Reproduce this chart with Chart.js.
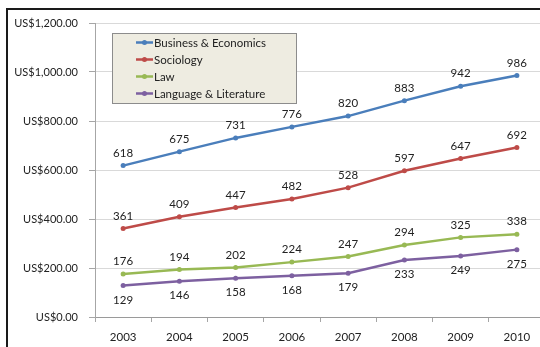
<!DOCTYPE html>
<html>
<head>
<meta charset="utf-8">
<script src="https://cdn.jsdelivr.net/npm/chart.js@4"></script>
<style>
  html, body { margin: 0; padding: 0; background: #fff; overflow: hidden; width: 540px; height: 347px; }
  #frame { position: absolute; left: 6px; top: 8px; width: 600px; height: 400px;
           border-left: 2px solid #1a1a1a; border-top: 2px solid #1a1a1a; }
  #wrap { position: absolute; left: 0; top: 0; width: 580px; height: 360px; }
</style>
</head>
<body>
<div id="frame"></div>
<div id="wrap"><canvas id="lineChart" width="580" height="360"></canvas></div>
<script>
var years = ['2003', '2004', '2005', '2006', '2007', '2008', '2009', '2010'];
var business = [618, 675, 731, 776, 820, 883, 942, 986];
var sociology = [361, 409, 447, 482, 528, 597, 647, 692];
var law = [176, 194, 202, 224, 247, 294, 325, 338];
var language = [129, 146, 158, 168, 179, 233, 249, 275];
var seriesNames = ['Business & Economics', 'Sociology', 'Law', 'Language & Literature'];
var seriesColors = ['#4a7ebb', '#be4b48', '#98b954', '#7d60a0'];

var FONT = 'Lato, "Liberation Sans", sans-serif';

function makeSet(i, values) {
  return {
    label: seriesNames[i],
    data: values,
    borderColor: seriesColors[i],
    backgroundColor: seriesColors[i],
    pointBackgroundColor: seriesColors[i],
    pointBorderColor: seriesColors[i],
    borderWidth: 2.5,
    pointRadius: 2.5,
    pointBorderWidth: 0,
    tension: 0,
    labelBelow: i === 3          // 語言文學的數值標在點的下面
  };
}

// 數值標籤
var valueLabels = {
  id: 'valueLabels',
  afterDatasetsDraw: function (chart) {
    var ctx = chart.ctx;
    ctx.save();
    ctx.font = '11.5px ' + FONT;
    ctx.fillStyle = '#222';
    ctx.textAlign = 'center';
    ctx.textBaseline = 'middle';
    chart.data.datasets.forEach(function (ds, i) {
      var meta = chart.getDatasetMeta(i);
      meta.data.forEach(function (pt, j) {
        var dy = ds.labelBelow ? 14.5 : -12.5;
        ctx.fillText(String(ds.data[j]), pt.x, pt.y + dy);
      });
    });
    ctx.restore();
  }
};

// 圖例方框 (在圖表區內左上)
var boxLegend = {
  id: 'boxLegend',
  afterDraw: function (chart) {
    var ctx = chart.ctx;
    var x = 112.5, y = 33.5, w = 184, h = 70;
    ctx.save();
    ctx.fillStyle = '#eeece1';
    ctx.fillRect(x, y, w, h);
    ctx.strokeStyle = '#8c8c8c';
    ctx.lineWidth = 1;
    ctx.strokeRect(x, y, w, h);
    ctx.font = '11.5px ' + FONT;
    ctx.textBaseline = 'middle';
    ctx.textAlign = 'left';
    chart.data.datasets.forEach(function (ds, i) {
      var ly = 42.5 + i * 17;
      ctx.strokeStyle = ds.borderColor;
      ctx.lineWidth = 2.5;
      ctx.beginPath();
      ctx.moveTo(136, ly);
      ctx.lineTo(153, ly);
      ctx.stroke();
      ctx.fillStyle = ds.borderColor;
      ctx.beginPath();
      ctx.arc(144.5, ly, 2.5, 0, Math.PI * 2);
      ctx.fill();
      ctx.fillStyle = '#222';
      ctx.fillText(ds.label, 154, ly + 0.5);
    });
    ctx.restore();
  }
};

new Chart(document.getElementById('lineChart'), {
  type: 'line',
  data: {
    labels: years,
    datasets: [makeSet(0, business), makeSet(1, sociology), makeSet(2, law), makeSet(3, language)]
  },
  options: {
    responsive: false,
    animation: false,
    layout: { padding: { top: 23, right: 35, left: 0, bottom: 0 } },
    plugins: {
      legend: { display: false },
      tooltip: { enabled: false }
    },
    scales: {
      x: {
        offset: true,
        grid: { offset: true, drawOnChartArea: false, drawTicks: true, tickLength: 5, tickColor: '#a6a6a6' },
        border: { color: '#9a9a9a', width: 1 },
        ticks: { color: '#222', font: { size: 11.5, family: FONT }, padding: 8, maxRotation: 0 },
        afterFit: function (s) { s.height = 43; }
      },
      y: {
        min: 0,
        max: 1200,
        grid: { color: '#d9d9d9', tickLength: 6, tickColor: '#a6a6a6' },
        border: { color: '#a6a6a6', width: 1 },
        ticks: {
          stepSize: 200,
          color: '#222',
          font: { size: 11, family: FONT },
          padding: 11,
          callback: function (v) {
            return 'US$' + v.toLocaleString('en-US', { minimumFractionDigits: 2, maximumFractionDigits: 2 });
          }
        },
        afterFit: function (s) { s.width = 95; }
      }
    }
  },
  plugins: [valueLabels, boxLegend]
});
</script>
</body>
</html>
